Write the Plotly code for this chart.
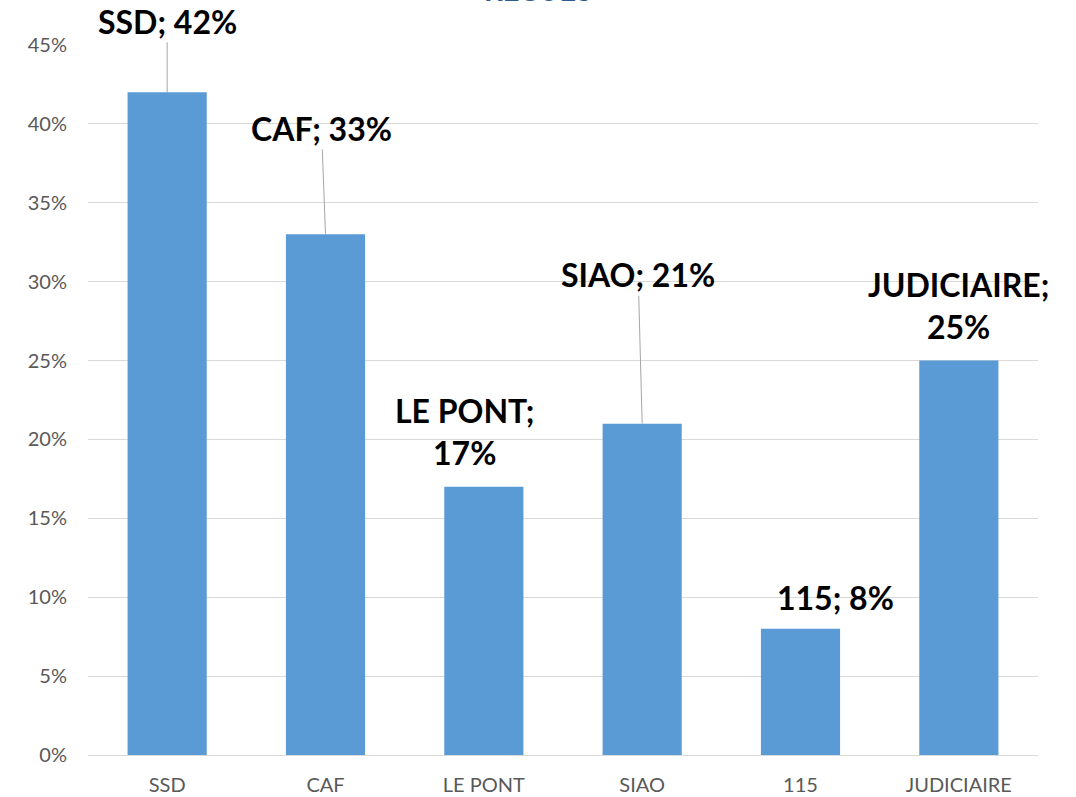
import plotly.graph_objects as go

# -----------------------------
# Data
# -----------------------------
categories = ["SSD", "CAF", "LE PONT", "SIAO", "115", "JUDICIAIRE"]
values = [42, 33, 17, 21, 8, 25]
label_texts = ["SSD; 42%", "CAF; 33%", "LE PONT;<br>17%", "SIAO; 21%", "115; 8%", "JUDICIAIRE;<br>25%"]
tick_vals = [0, 5, 10, 15, 20, 25, 30, 35, 40, 45]
tick_text = ["0%", "5%", "10%", "15%", "20%", "25%", "30%", "35%", "40%", "45%"]

# label offsets (pixels) and whether a leader line is shown
label_ax = [0, -4, -19, -4, 35, 0]
label_ay = [-71, -106, -55, -149, -31, -55]
leader = [True, True, False, True, False, False]

BAR_COLOR = "#5B9BD5"
GRID_COLOR = "#D9D9D9"
TICK_COLOR = "#595959"

fig = go.Figure()
fig.add_trace(go.Bar(
    x=categories,
    y=values,
    marker=dict(color=BAR_COLOR, line=dict(width=0)),
    hoverinfo="skip",
))

# -----------------------------
# Data labels with leader lines
# -----------------------------
# category positions are given by index, so "115" is not read as a number
for i, (val, txt, ax, ay, ld) in enumerate(zip(values, label_texts, label_ax, label_ay, leader)):
    fig.add_annotation(
        x=i, y=val, text="<b>" + txt.replace("<br>", "</b><br><b>") + "</b>",
        showarrow=True, arrowhead=0, arrowwidth=1, standoff=0,
        arrowcolor="#A6A6A6" if ld else "rgba(0,0,0,0)",
        ax=ax, ay=ay,
        font=dict(family="Lato, sans-serif", size=32, color="#000000"),
    )

# title, mostly cut off at the top edge
fig.add_annotation(
    xref="paper", yref="paper", x=0.474, y=1.051,
    xanchor="center", yanchor="bottom", showarrow=False,
    text="<b>RECUES</b>",
    font=dict(family="Lato, sans-serif", size=29, color="#2E5C8A"),
)

fig.update_layout(
    width=1076, height=797,
    margin=dict(l=88, r=38, t=45, b=42),
    paper_bgcolor="white", plot_bgcolor="white",
    bargap=0.5,
    showlegend=False,
    font=dict(family="Lato, sans-serif", color=TICK_COLOR),
    xaxis=dict(
        type="category", range=[-0.5, 5.5], automargin=False,
        showgrid=False, showline=False, zeroline=False,
        tickfont=dict(size=20, color=TICK_COLOR), tickangle=0,
        ticks="", ticklabelstandoff=16,
    ),
    yaxis=dict(
        range=[0, 45], tickvals=tick_vals, ticktext=tick_text, automargin=False,
        showgrid=True, gridcolor=GRID_COLOR, gridwidth=1,
        zeroline=True, zerolinecolor=GRID_COLOR, zerolinewidth=1,
        showline=False, ticks="",
        tickfont=dict(size=20, color=TICK_COLOR),
        ticklabelstandoff=20,
    ),
)

# drop the default page margin so the figure fills the window
fig.write_html(
    "out.html",
    config={"displayModeBar": False},
    post_script="document.body.style.margin='0px';",
)
